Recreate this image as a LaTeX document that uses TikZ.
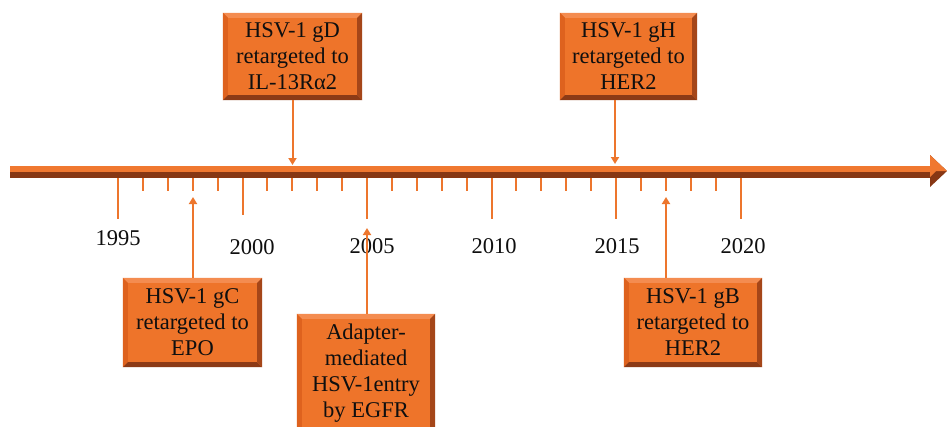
\documentclass[tikz,border=0pt]{standalone}
\usepackage{fontspec}
\setmainfont{Liberation Serif}
\usetikzlibrary{arrows.meta,calc}
\definecolor{boxface}{RGB}{238,116,42}
\definecolor{bevtop}{RGB}{244,140,80}
\definecolor{bevleft}{RGB}{222,98,30}
\definecolor{bevdark}{RGB}{140,58,22}
\definecolor{bevright}{RGB}{165,70,25}
\definecolor{lineor}{RGB}{237,118,45}
\definecolor{axo}{RGB}{240,120,48}
\definecolor{axd}{RGB}{135,55,20}
\definecolor{txt}{RGB}{15,15,15}
\newcommand{\bevelit}[1]{%
 \fill[bevtop] (#1.north west) -- (#1.north east) -- ([shift={(-5pt,-5pt)}]#1.north east) -- ([shift={(5pt,-5pt)}]#1.north west) -- cycle;
 \fill[bevleft] (#1.north west) -- ([shift={(5pt,-5pt)}]#1.north west) -- ([shift={(5pt,5pt)}]#1.south west) -- (#1.south west) -- cycle;
 \fill[bevdark] (#1.south west) -- ([shift={(5pt,5pt)}]#1.south west) -- ([shift={(-5pt,5pt)}]#1.south east) -- (#1.south east) -- cycle;
 \fill[bevright] (#1.north east) -- (#1.south east) -- ([shift={(-5pt,5pt)}]#1.south east) -- ([shift={(-5pt,-5pt)}]#1.north east) -- cycle;
}
\tikzset{
 evbox/.style={fill=boxface, minimum width=139pt, minimum height=87pt, inner sep=0pt,
   align=center, font=\fontsize{22.5}{26}\selectfont, text=txt},
 yearlbl/.style={font=\fontsize{22.5}{26}\selectfont, text=txt, inner sep=0pt},
 tickln/.style={draw=lineor, line width=2pt},
 conn/.style={draw=lineor, line width=2pt, -{Triangle[length=7pt,width=8pt]}},
}
\begin{document}
\begin{tikzpicture}[x=1pt,y=-1pt]
\useasboundingbox[fill=white] (0,0) rectangle (947,426);
% ticks
\foreach \i in {0,...,25}{
  \pgfmathsetmacro{\xx}{118+\i*24.9}
  \pgfmathtruncatemacro{\md}{mod(\i,5)}
  \ifnum\md=0
    \ifnum\i=5 \draw[tickln] (\xx,175) -- (\xx,215);
    \else \draw[tickln] (\xx,175) -- (\xx,219); \fi
  \else
    \draw[tickln] (\xx,175) -- (\xx,191);
  \fi
}
% axis
\fill[axo] (10,165.5) rectangle (931,172);
\fill[axd] (10,172) rectangle (931,177.5);
\fill[axd] (930,155) -- (947,171) -- (930,187) -- cycle;
\fill[axo] (930,155) -- (947,171) -- (936,171) -- (930,177) -- cycle;
% year labels
\node[yearlbl] (y1995) at (118,238) {1995};
\node[yearlbl] (y2000) at (252,247) {2000};
\node[yearlbl] (y2005) at (372,246) {2005};
\node[yearlbl] (y2010) at (494,246) {2010};
\node[yearlbl] (y2015) at (617,246) {2015};
\node[yearlbl] (y2020) at (743,246) {2020};
% boxes
\node[evbox] (gD) at (292.5,56.5) {HSV-1 gD\\retargeted to\\IL-13Rα2};
\bevelit{gD}
\node[evbox, minimum width=137pt] (gH) at (628.5,56.5) {HSV-1 gH\\retargeted to\\HER2};
\bevelit{gH}
\node[evbox, minimum height=89pt] (gC) at (192.5,322.5) {HSV-1 gC\\retargeted to\\EPO};
\bevelit{gC}
\node[evbox, minimum width=138pt, minimum height=89pt] (gB) at (693,322.5) {HSV-1 gB\\retargeted to\\HER2};
\bevelit{gB}
\node[evbox, minimum width=138pt, minimum height=118pt] (ad) at (366,373) {Adapter-\\mediated\\HSV-1entry\\by EGFR};
\bevelit{ad}
% connector targets
\coordinate (tD) at (292.5,165);
\coordinate (tH) at (615,164);
\coordinate (tC) at (193,197);
\coordinate (tB) at (666,197);
\coordinate (tA) at (367,228);
\draw[conn] (gD.south) -- (tD);
\draw[conn] (gH.south -| tH) -- (tH);
\draw[conn] (gC.north -| tC) -- (tC);
\draw[conn] (gB.north -| tB) -- (tB);
\draw[conn] (ad.north -| tA) -- (tA);
\end{tikzpicture}
\end{document}
